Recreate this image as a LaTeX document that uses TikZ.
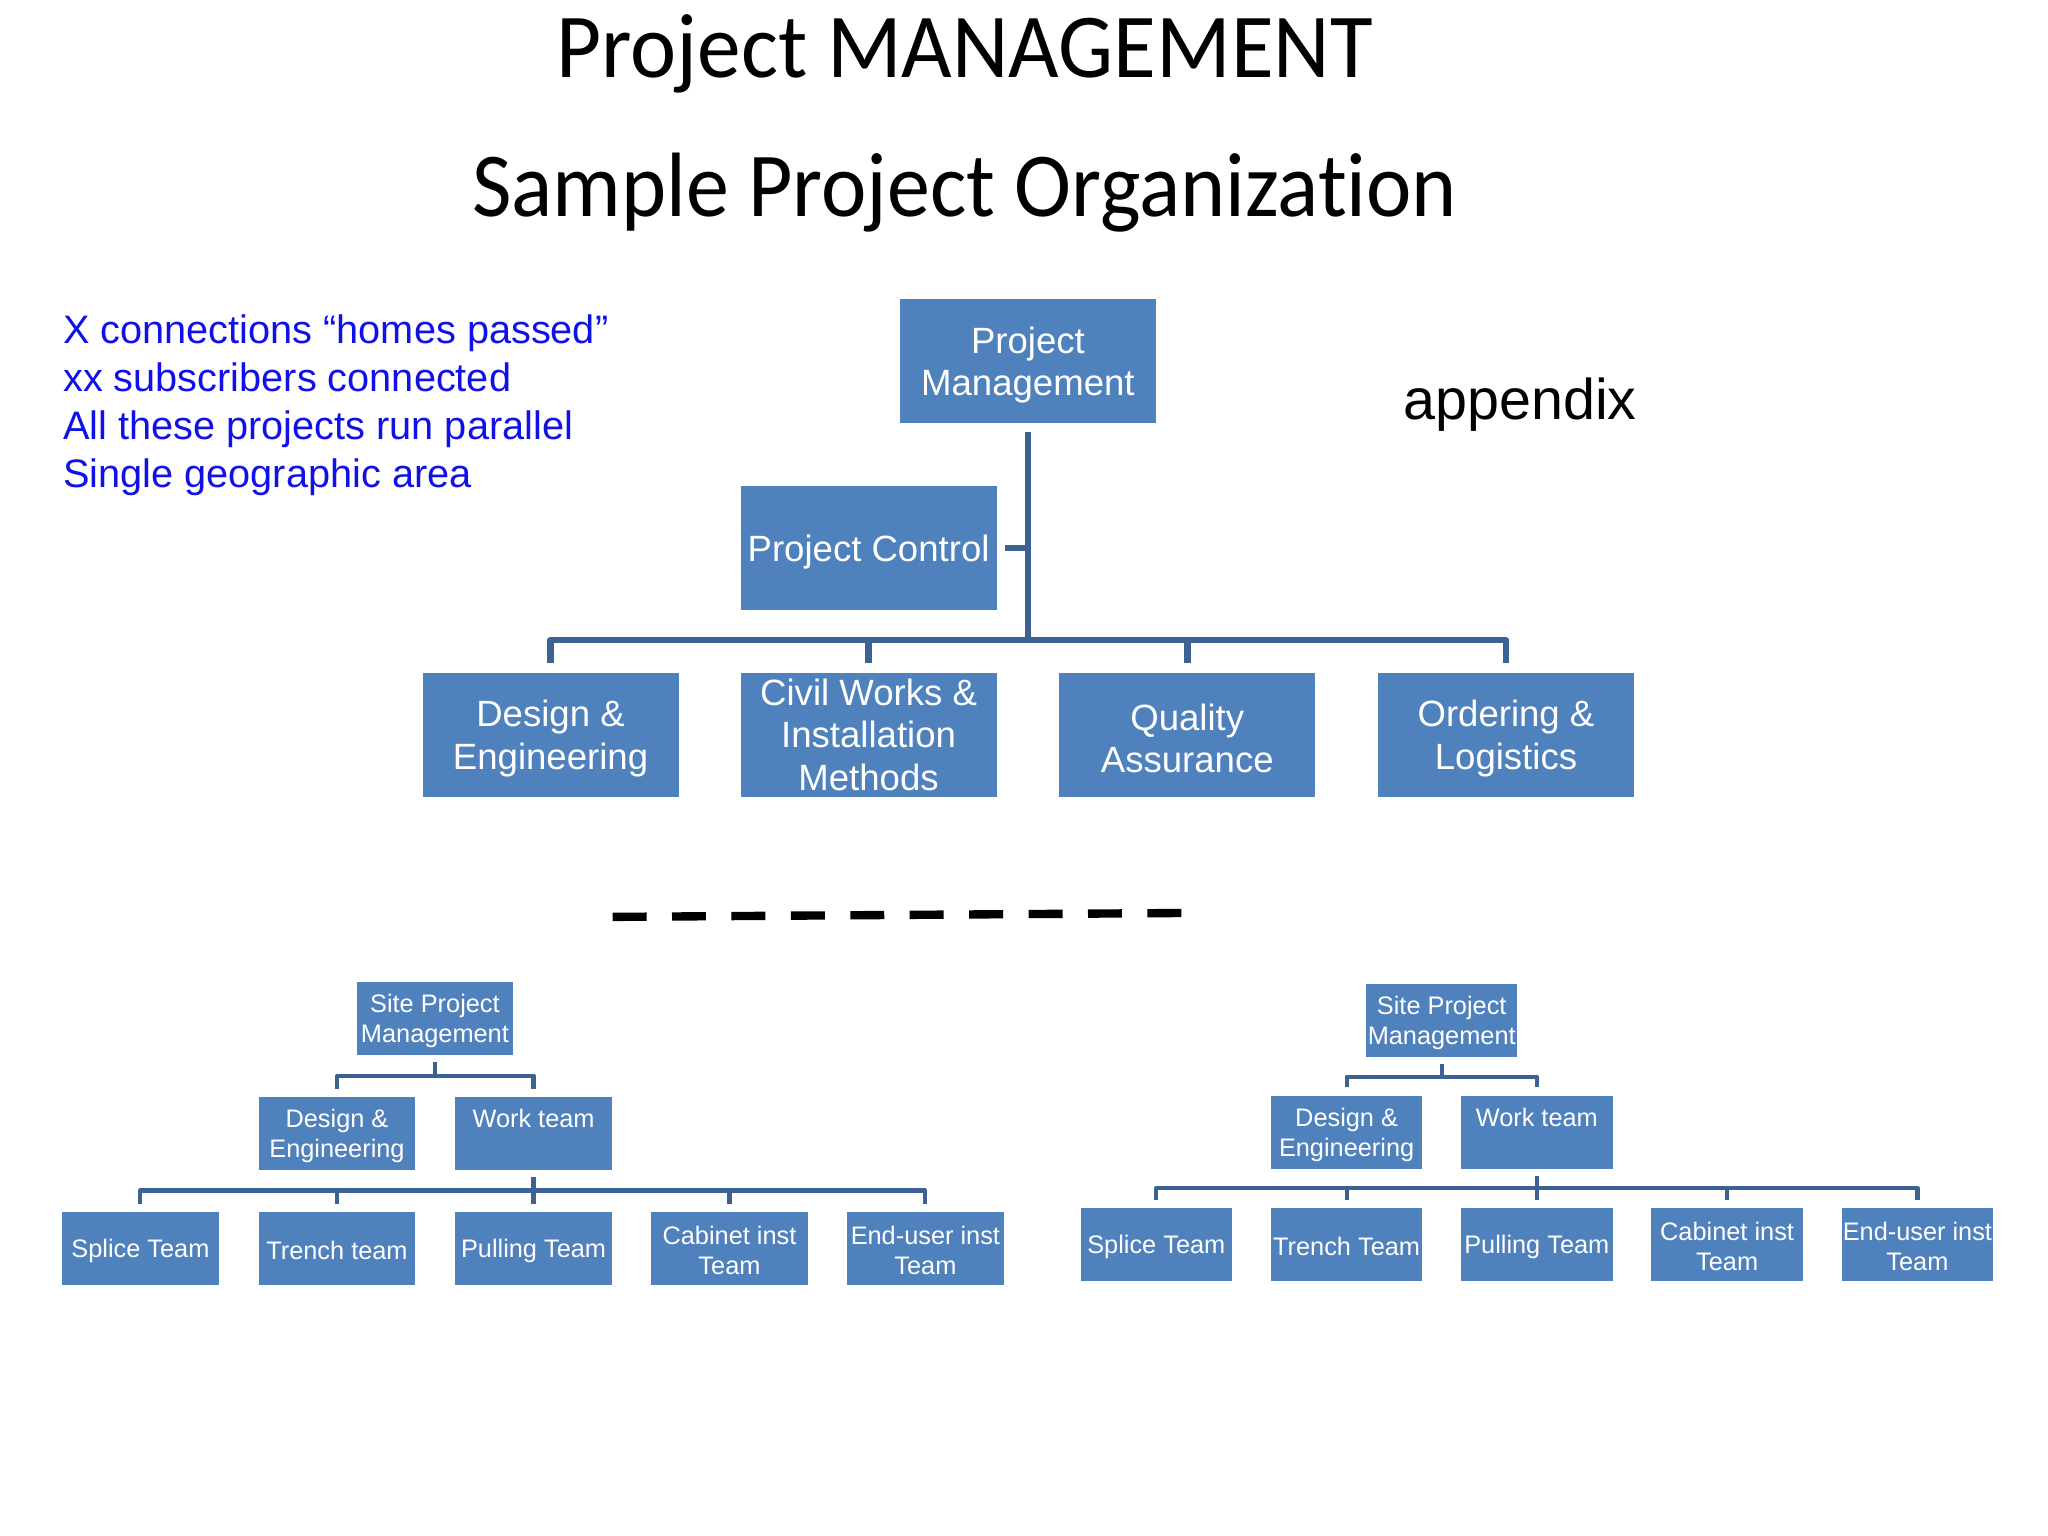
\documentclass[tikz,border=0pt]{standalone}
\usepackage{fontspec}
\setmainfont{Liberation Sans}
\newfontfamily\titlefont[Ligatures=NoCommon]{Carlito}
\definecolor{boxblue}{HTML}{4F81BD}
\definecolor{linkblue}{RGB}{60,98,148}
\definecolor{noteblue}{RGB}{16,16,232}
\newcommand\bst{\rule{0pt}{13.2pt}}
\newcommand\sst{\rule{0pt}{8.6pt}}
\begin{document}
\begin{tikzpicture}[x=0.5pt,y=-0.5pt,
  bigbox/.style={rectangle, fill=boxblue, text=white, align=center, inner sep=0pt,
    minimum width=98pt, minimum height=47.5pt, font=\fontsize{14}{16.25}\selectfont},
  smallbox/.style={rectangle, fill=boxblue, text=white, align=center, inner sep=0pt,
    minimum width=60pt, minimum height=28pt, font=\fontsize{9.7}{11.5}\selectfont},
  narrowbox/.style={smallbox, minimum width=58pt},
  conn/.style={draw=linkblue, line width=2.5pt},
  thinconn/.style={draw=linkblue, line width=1.6pt, line join=round},
  note/.style={anchor=base west, inner sep=0pt, text=noteblue, font=\fontsize{15.2}{18}\selectfont},
  title/.style={anchor=base, inner sep=0pt, font=\titlefont\fontsize{35}{40}\selectfont}
]
\useasboundingbox[fill=white] (0,0) rectangle (1568,1176);

% titles
\node[title] (t1) at (738.5,59.6) {\scalebox{0.955}[1]{Project MANAGEMENT}};
\node[title] (t2) at (738.5,165.5) {\scalebox{0.94}[1]{Sample Project Organizat\kern0pt ion}};

% notes
\node[note] (n1) at (48,263.2) {X connections “homes passed”};
\node[note] (n2) at (48,299.8) {xx subscribers connected};
\node[note] (n3) at (48,336.4) {All these projects run parallel};
\node[note] (n4) at (48,373) {Single geographic area};
\node[anchor=base west, inner sep=0pt, font=\fontsize{22}{26}\selectfont] (app) at (1074,321.4) {appendix};

% top chart
\node[bigbox] (PM) at (787,276.5) {\bst Project\\Management};
\node[bigbox] (PC) at (665,419.5) {\bst Project Control};
\node[bigbox] (DE) at (421.5,562.5) {\bst Design \&\\Engineering};
\node[bigbox] (CW) at (665,562.5) {Civil Works \&\\Installation\\Methods};
\node[bigbox] (QA) at (909,562.5) {\bst Quality\\Assurance};
\node[bigbox] (OL) at (1153,562.5) {\bst Ordering \&\\Logistics};
\coordinate (bar0) at (0,490);
\draw[conn] ([yshift=-3pt]PM.south) -- (PM.south |- bar0);
\draw[conn] ([xshift=3pt]PC.east) -- (PM.south |- PC.east);
\draw[conn, line join=round] ([yshift=3.5pt]DE.north) -- (DE.north |- bar0) -- (OL.north |- bar0) -- ([yshift=3.5pt]OL.north);
\draw[conn] ([yshift=3.5pt]CW.north) -- (CW.north |- bar0);
\draw[conn] ([yshift=3.5pt]QA.north) -- (QA.north |- bar0);

% dashed separator
\coordinate (d1) at (469,702);
\coordinate (d2) at (907,699);
\draw[line width=3.2pt, dash pattern=on 13pt off 9.75pt] (d1) -- (d2);

% bottom left chart
\node[smallbox] (S1) at (333,780) {\sst Site Project\\Management};
\node[smallbox] (D1) at (258,868) {\sst Design \&\\Engineering};
\node[smallbox] (W1) at (408.5,868) {\sst Work team\\\phantom{g}};
\node[smallbox] (A1) at (107.5,956) {\sst Splice Team};
\node[smallbox] (B1) at (258,956) {\sst Trench team};
\node[smallbox] (P1) at (408.5,956) {\sst Pulling Team};
\node[smallbox] (C1) at (558.5,956) {\sst Cabinet inst\\Team};
\node[smallbox] (E1) at (708.5,956) {\sst End-user inst\\Team};
\coordinate (bar1) at (0,823.5);
\coordinate (bar2) at (0,911.5);
\draw[thinconn] ([yshift=-2.5pt]S1.south) -- (S1.south |- bar1);
\draw[thinconn] ([yshift=3pt]D1.north) -- (D1.north |- bar1) -- (W1.north |- bar1) -- ([yshift=3pt]W1.north);
\draw[thinconn] ([yshift=-2.5pt]W1.south) -- (W1.south |- bar2);
\draw[thinconn] ([yshift=3pt]A1.north) -- (A1.north |- bar2) -- (E1.north |- bar2) -- ([yshift=3pt]E1.north);
\draw[thinconn] ([yshift=3pt]B1.north) -- (B1.north |- bar2);
\draw[thinconn] ([yshift=3pt]P1.north) -- (P1.north |- bar2);
\draw[thinconn] ([yshift=3pt]C1.north) -- (C1.north |- bar2);

% bottom right chart
\node[narrowbox] (S2) at (1103.8,781.5) {\sst Site Project\\Management};
\node[narrowbox] (D2) at (1031,867) {\sst Design \&\\Engineering};
\node[narrowbox] (W2) at (1176.6,867) {\sst Work team\\\phantom{g}};
\node[narrowbox] (A2) at (885.3,952.8) {\sst Splice Team};
\node[narrowbox] (B2) at (1031,952.8) {\sst Trench Team};
\node[narrowbox] (P2) at (1176.6,952.8) {\sst Pulling Team};
\node[narrowbox] (C2) at (1322.3,952.8) {\sst Cabinet inst\\Team};
\node[narrowbox] (E2) at (1468,952.8) {\sst End-user inst\\Team};
\coordinate (bar3) at (0,824.3);
\coordinate (bar4) at (0,909.8);
\draw[thinconn] ([yshift=-2.5pt]S2.south) -- (S2.south |- bar3);
\draw[thinconn] ([yshift=3pt]D2.north) -- (D2.north |- bar3) -- (W2.north |- bar3) -- ([yshift=3pt]W2.north);
\draw[thinconn] ([yshift=-2.5pt]W2.south) -- (W2.south |- bar4);
\draw[thinconn] ([yshift=3pt]A2.north) -- (A2.north |- bar4) -- (E2.north |- bar4) -- ([yshift=3pt]E2.north);
\draw[thinconn] ([yshift=3pt]B2.north) -- (B2.north |- bar4);
\draw[thinconn] ([yshift=3pt]P2.north) -- (P2.north |- bar4);
\draw[thinconn] ([yshift=3pt]C2.north) -- (C2.north |- bar4);
\end{tikzpicture}
\end{document}
